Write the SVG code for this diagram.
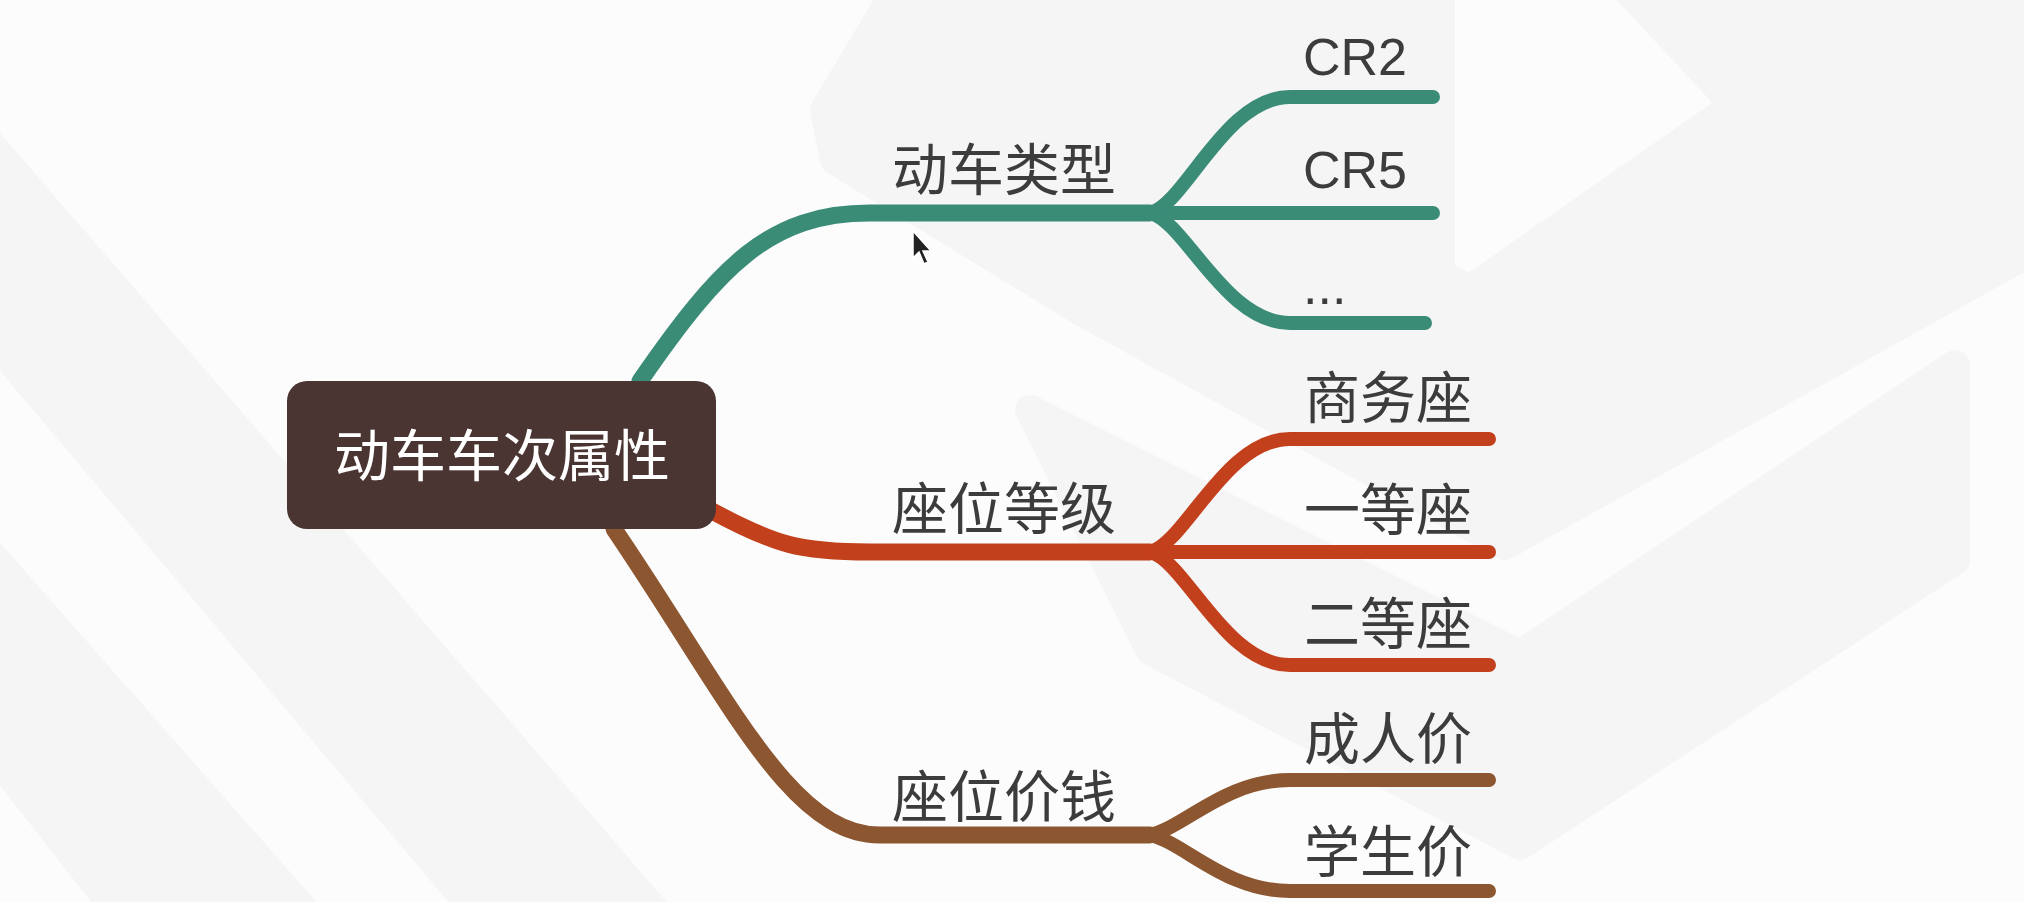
<svg xmlns="http://www.w3.org/2000/svg" width="2024" height="902" viewBox="0 0 2024 902">
  <style>
    .lbl { font-family: "Liberation Sans", "Noto Sans CJK SC", sans-serif; font-size: 56px; fill: #3c3c3c; }
    .lat { font-family: "Liberation Sans", "Noto Sans CJK SC", sans-serif; font-size: 52px; fill: #3c3c3c; }
    .root { font-family: "Liberation Sans", "Noto Sans CJK SC", sans-serif; font-size: 56px; fill: #ffffff; }
    .main { fill: none; stroke-width: 17; stroke-linecap: round; stroke-linejoin: round; }
    .sub { fill: none; stroke-width: 14; stroke-linecap: round; stroke-linejoin: round; }
    .g { stroke: #3a8c77; }
    .r { stroke: #c2401b; }
    .b { stroke: #8c5630; }
    .bg { fill: #f5f5f5; stroke: #f5f5f5; stroke-width: 30; stroke-linejoin: round; }
  </style>
  <!-- background -->
  <rect x="0" y="0" width="2024" height="902" fill="#fcfcfc"/>
  <g id="background">
    <polygon class="bg" points="-40,110 -40,300 500,940 680,940"/>
    <polygon class="bg" points="-40,520 -40,710 140,940 330,940"/>
    <polygon class="bg" points="915,-40 1440,-40 1440,275 1470,290 1735,105 1600,-40 2060,-40 2060,235 1505,545 1080,310 835,160 825,110"/>
    <polygon class="bg" points="1030,410 1520,655 1955,365 1955,560 1520,845 1150,650"/>
  </g>

  <!-- connectors -->
  <g id="connectors">
    <path class="main g" d="M 640 381 C 720 265, 770 213, 870 213 H 1150"/>
    <path class="sub g" d="M 1150 213 C 1185 205, 1225 97, 1290 97 H 1433"/>
    <path class="sub g" d="M 1150 213 H 1433"/>
    <path class="sub g" d="M 1150 213 C 1185 221, 1225 323, 1290 323 H 1425"/>

    <path class="main r" d="M 712 511 C 775 545, 800 552, 870 552 H 1150"/>
    <path class="sub r" d="M 1150 552 C 1185 544, 1225 439, 1290 439 H 1489"/>
    <path class="sub r" d="M 1150 552 H 1489"/>
    <path class="sub r" d="M 1150 552 C 1185 560, 1225 665, 1290 665 H 1489"/>

    <path class="main b" d="M 614 529 C 730 700, 790 835, 880 835 H 1150"/>
    <path class="sub b" d="M 1150 835 C 1185 827, 1225 780, 1290 780 H 1489"/>
    <path class="sub b" d="M 1150 835 C 1185 843, 1225 891, 1290 891 H 1489"/>
  </g>

  <!-- root node -->
  <g id="root">
    <rect x="287" y="381" width="429" height="148" rx="20" ry="20" fill="#4a3533"/>
    <text class="root" x="502" y="476" text-anchor="middle">动车车次属性</text>
  </g>

  <!-- level 1 -->
  <g id="n-type"><text class="lbl" x="892" y="190">动车类型</text></g>
  <g id="n-seat"><text class="lbl" x="892" y="529">座位等级</text></g>
  <g id="n-price"><text class="lbl" x="892" y="817">座位价钱</text></g>

  <!-- level 2 -->
  <g id="n-cr2"><text class="lat" x="1303" y="75">CR2</text></g>
  <g id="n-cr5"><text class="lat" x="1303" y="188">CR5</text></g>
  <g id="n-more"><text class="lat" x="1303" y="304">...</text></g>
  <g id="n-biz"><text class="lbl" x="1304" y="418">商务座</text></g>
  <g id="n-first"><text class="lbl" x="1304" y="530">一等座</text></g>
  <g id="n-second"><text class="lbl" x="1304" y="644">二等座</text></g>
  <g id="n-adult"><text class="lbl" x="1304" y="759">成人价</text></g>
  <g id="n-student"><text class="lbl" x="1304" y="872">学生价</text></g>

  <!-- mouse cursor -->
  <path d="M 913 231 L 913 258 L 919 252 L 924 264 L 928 262 L 923 251 L 931 251 Z" fill="#222" stroke="#fff" stroke-width="1.5"/>
</svg>
